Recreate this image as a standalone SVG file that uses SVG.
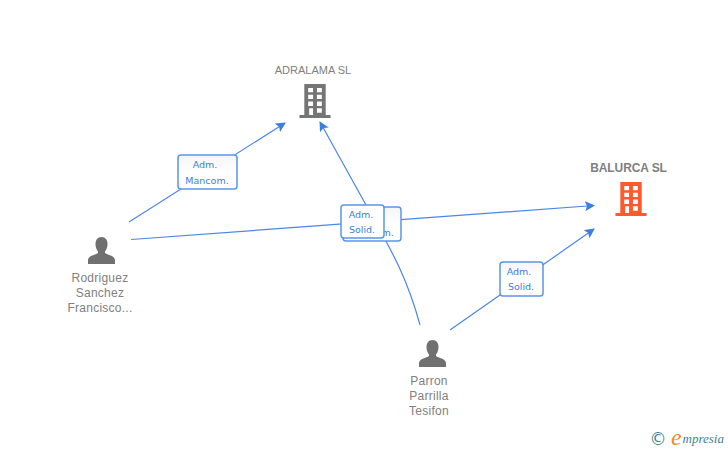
<svg xmlns="http://www.w3.org/2000/svg" width="728" height="450" viewBox="0 0 728 450">
<style>
.lbl{font-family:"Liberation Sans",Arial,sans-serif;font-size:12px;letter-spacing:.25px;fill:#808080;text-anchor:middle}
.edge{fill:none;stroke:#4a86e8;stroke-width:1.2}
.box{fill:url(#bg);stroke:#5b95ea;stroke-width:1.5}
.bt{font-family:"DejaVu Sans",sans-serif;font-size:9.500px;fill:#3a7fe0;text-anchor:middle}
.person{fill:#707070}
</style>
<defs>
<linearGradient id="bg" x1="0" y1="0" x2="0" y2="1"><stop offset="0" stop-color="#f5f5f5"/><stop offset="0.5" stop-color="#ffffff"/></linearGradient>
<marker id="arr" markerWidth="11" markerHeight="10" refX="9" refY="5" orient="auto" markerUnits="userSpaceOnUse"><path d="M0 0L10 5L0 10L2 5Z" fill="#3a7fe0"/></marker>
<symbol id="bld" viewBox="0 0 32 36" overflow="visible">
<path fill-rule="evenodd" d="M5 0H27V32H32V35H0V32H5ZM9 4V8.500H14V4ZM18 4V8.500H23V4ZM9 11V15.500H14V11ZM18 11V15.500H23V11ZM9 18V22.500H14V18ZM18 18V22.500H23V18ZM10 25V32H14V25ZM18 25V29.500H23V25Z"/>
</symbol>
<symbol id="psn" viewBox="0 0 28 28" overflow="visible">
<path d="M14 0C18 0 20 3 20 7C20 10.500 19 12.500 17.500 14.500V16C20 18 27 18.500 27.500 23V27H0.500V23C1 18.500 8 18 10.500 16V14.500C9 12.500 8 10.500 8 7C8 3 10 0 14 0Z"/>
</symbol>
</defs>
<g id="connectors">
<path class="edge" marker-end="url(#arr)" d="M129 222L285 123"/>
<path class="edge" marker-end="url(#arr)" d="M131 239.500L594 205.500"/>
<path class="edge" marker-end="url(#arr)" d="M420 325C405 270 385 240 366 205L320 122"/>
<path class="edge" marker-end="url(#arr)" d="M450 330L594 229"/>
</g>
<g id="node-adralama">
<text class="lbl" x="313" y="74" style="font-size:11px;letter-spacing:0">ADRALAMA SL</text>
<use href="#bld" x="299" y="84" width="32" height="35" fill="#757575"/>
</g>
<g id="node-balurca">
<text class="lbl" x="628.500" y="172" style="font-weight:bold;letter-spacing:-.1px">BALURCA SL</text>
<use href="#bld" x="615" y="182" width="32" height="35" fill="#ff5a2d"/>
</g>
<g id="node-rodriguez">
<use href="#psn" class="person" x="87.500" y="237" width="28" height="28"/>
<text class="lbl" x="100" y="282">Rodriguez</text>
<text class="lbl" x="100" y="297">Sanchez</text>
<text class="lbl" x="100" y="312">Francisco...</text>
</g>
<g id="node-parron">
<use href="#psn" class="person" x="418.500" y="340" width="28" height="28"/>
<text class="lbl" x="429" y="385">Parron</text>
<text class="lbl" x="429" y="400">Parrilla</text>
<text class="lbl" x="429" y="415">Tesifon</text>
</g>
<g id="label-mancom-1">
<rect class="box" x="178" y="155" width="59" height="34" rx="3"/>
<text class="bt" x="205" y="168">Adm.</text>
<text class="bt" x="207" y="184">Mancom.</text>
</g>
<g id="label-mancom-2">
<rect class="box" x="343" y="207" width="58" height="34" rx="3"/>
<text class="bt" x="372" y="220">Adm.</text>
<text class="bt" x="372" y="236">Mancom.</text>
</g>
<g id="label-solid-1">
<rect class="box" x="341" y="205" width="43" height="33" rx="3" style="fill:#fff"/>
<text class="bt" x="361" y="218">Adm.</text>
<text class="bt" x="362" y="233">Solid.</text>
</g>
<g id="label-solid-2">
<rect class="box" x="500" y="262" width="43" height="34" rx="3"/>
<text class="bt" x="519" y="275">Adm.</text>
<text class="bt" x="521" y="290">Solid.</text>
</g>
<g id="watermark">
<text x="658" y="445" style="font-family:'DejaVu Sans',sans-serif;font-size:17px;fill:#3f7f95;text-anchor:middle">©</text>
<text x="671" y="445" style="font-family:'Liberation Serif',serif;font-style:italic;font-size:24px;fill:#f08a1d">e</text>
<text x="682.500" y="443" style="font-family:'Liberation Serif',serif;font-style:italic;font-size:13px;fill:#3f7f95">mpresia</text>
</g>
</svg>
